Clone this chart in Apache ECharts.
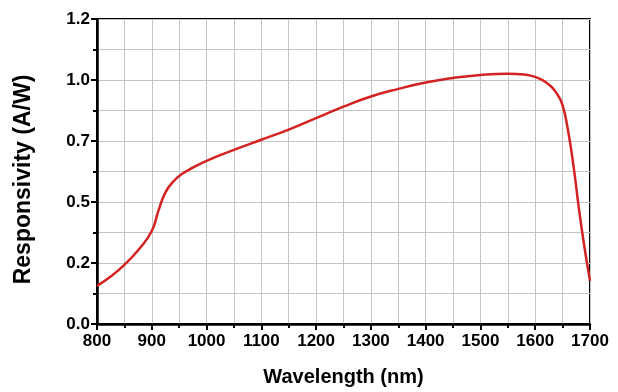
<!DOCTYPE html>
<html><head><meta charset="utf-8">
<script src="https://cdn.jsdelivr.net/npm/echarts@6/dist/echarts.min.js"></script>
<style>html,body{margin:0;padding:0;background:#fff}#c{width:618px;height:392px}</style>
</head><body><div id="c"></div>
<script>
const wavelengths = [800,825,850,875,900,912,925,940,955,975,1000,1050,1100,1150,1200,1250,1300,1350,1400,1450,1500,1550,1580,1600,1620,1640,1650,1660,1670,1680,1690,1700];
const responsivity = [0.15,0.187,0.233,0.29,0.366,0.445,0.518,0.562,0.59,0.615,0.642,0.685,0.725,0.765,0.81,0.855,0.895,0.925,0.95,0.968,0.98,0.985,0.982,0.972,0.95,0.905,0.86,0.76,0.62,0.45,0.3,0.17];
const xTitle = 'Wavelength (nm)';
const yTitle = 'Responsivity (A/W)';
const font = '"Liberation Sans", Arial, sans-serif';
const chart = echarts.init(document.getElementById('c'));
chart.setOption({
  animation:false,
  grid:{left:97,right:28,top:19,bottom:67,show:true,borderColor:'#000',borderWidth:2,backgroundColor:'transparent'},
  xAxis:{type:'value',min:800,max:1700,interval:100,
    name:xTitle,nameLocation:'middle',nameGap:43,
    nameTextStyle:{fontFamily:font,fontWeight:'bold',fontSize:20,color:'#000'},
    axisLine:{show:true,lineStyle:{color:'#000',width:2.5}},
    axisTick:{show:true,length:6,lineStyle:{color:'#000',width:2}},
    minorTick:{show:true,splitNumber:2,length:4,lineStyle:{color:'#000',width:2}},
    splitLine:{show:true,lineStyle:{color:'#c4c4c4',width:1}},
    minorSplitLine:{show:true,lineStyle:{color:'#c4c4c4',width:1}},
    axisLabel:{fontFamily:font,fontWeight:'bold',fontSize:17,color:'#000',margin:9,
      formatter:v=>String(v)}},
  yAxis:{type:'value',min:0,max:1.2,interval:0.24,
    name:yTitle,nameLocation:'middle',nameGap:62,nameRotate:90,
    nameTextStyle:{fontFamily:font,fontWeight:'bold',fontSize:23,color:'#000',padding:[0,0,0,-16]},
    axisLine:{show:true,lineStyle:{color:'#000',width:2.5}},
    axisTick:{show:true,length:6,lineStyle:{color:'#000',width:2}},
    minorTick:{show:true,splitNumber:2,length:4,lineStyle:{color:'#000',width:2}},
    splitLine:{show:true,lineStyle:{color:'#c4c4c4',width:1}},
    minorSplitLine:{show:true,lineStyle:{color:'#c4c4c4',width:1}},
    axisLabel:{fontFamily:font,fontWeight:'bold',fontSize:17,color:'#000',margin:7,
      formatter:v=>v.toFixed(1)}},
  series:[{type:'line',smooth:0.5,showSymbol:false,
    data:wavelengths.map((w,i)=>[w,responsivity[i]]),
    lineStyle:{color:'#d42222',width:2.5}}]
});
</script></body></html>
